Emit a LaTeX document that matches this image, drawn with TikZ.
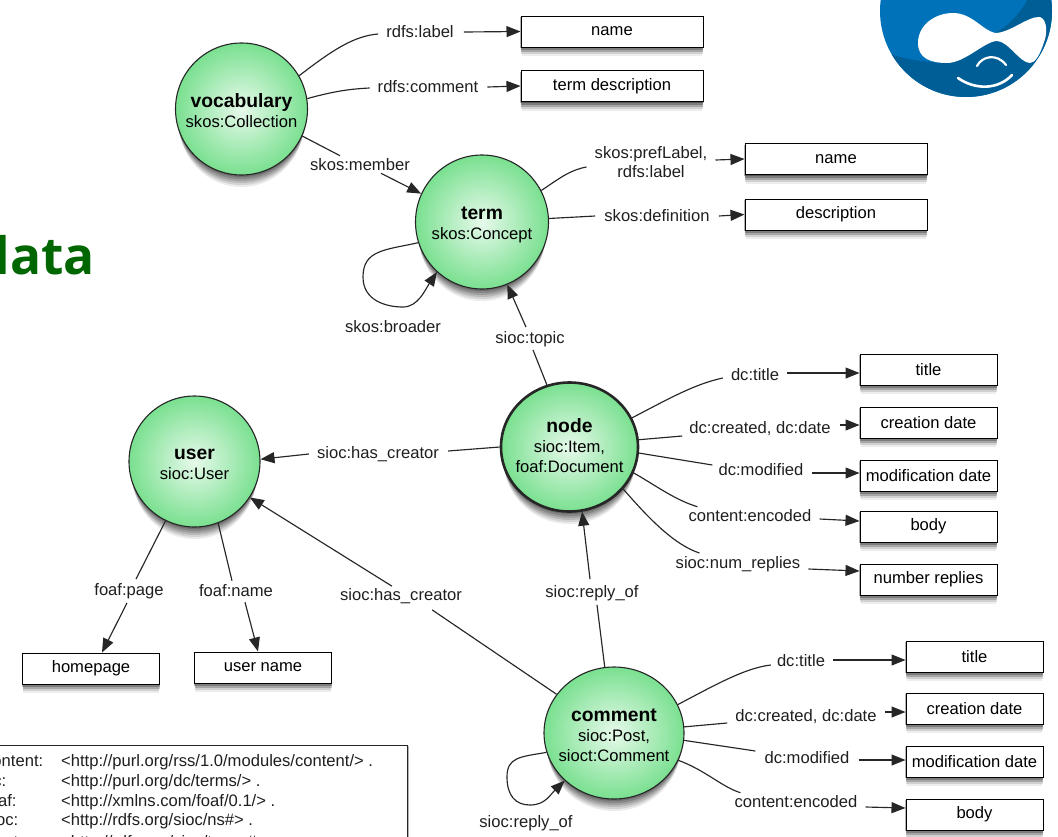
\documentclass[tikz,border=0pt]{standalone}
\usepackage{fontspec}
\setmainfont{Liberation Sans}
\newfontfamily\titlefont{Open Sans}
\usetikzlibrary{arrows.meta,calc,shapes.geometric}
\definecolor{ballgreen}{RGB}{122,224,144}
\definecolor{dblue}{RGB}{0,114,186}
\definecolor{ddblue}{RGB}{0,94,150}
\definecolor{titlegreen}{RGB}{0,102,0}
\newcommand{\balltext}[3]{\raisebox{#1}[0pt][0pt]{\makebox[0pt]{\begin{tabular}{@{}c@{}}\fontsize{19.3}{20}\selectfont\bfseries #2\\#3\end{tabular}}}}
% soft shadows are stacks of translucent copies
\newcommand{\ballshadow}[4]{%
  \foreach \dd/\oo in {2/0.18,4/0.16,6/0.14,8/0.12,10/0.1,12/0.08}{
    \fill[black,opacity=\oo] (#1,#2+\dd) ellipse [x radius=#3-\dd*0.25,y radius=#4];}}
\newcommand{\boxshadow}[4]{%
  \foreach \dd/\oo in {1/0.3,3/0.25,5/0.2,7/0.12,9/0.07}{
    \fill[black,opacity=\oo] (#1-#3/2-1+\dd*0.2,#2-#4/2+\dd) rectangle (#1+#3/2+1-\dd*0.2,#2+#4/2+\dd);}}
\tikzset{
  x=1pt,y=-1pt,
  ball/.style={ellipse,draw=black!85,line width=1.1pt,inner sep=0pt,align=center,font=\fontsize{16.6}{20}\selectfont,
    inner color=white!82!ballgreen,outer color=ballgreen},
  valbox/.style={draw=black,fill=white,line width=1pt,minimum width=137pt,minimum height=31pt,inner sep=0pt,
    font=\fontsize{16.6}{18}\selectfont},
  widebox/.style={valbox,minimum width=182pt},
  lab/.style={inner sep=0pt,align=center,font=\fontsize{16.6}{19}\selectfont,text=black!88},
  edge/.style={draw=black!85,line width=1.15pt},
  arr/.style={edge,-{Triangle[length=14pt,width=11pt]}},
}
\begin{document}
\begin{tikzpicture}
\useasboundingbox (0,0) rectangle (1058,836);
\begin{scope}
\clip (0,0) rectangle (1058,836);
% logo
\fill[dblue] (966,11) circle (86);
\begin{scope}
\clip (966,11) circle (86);
\fill[ddblue] (1030,-5) .. controls (1020,15) and (1005,30) .. (990,35) -- (945,63) .. controls (925,62) and (905,60) .. (885,52) -- (885,110) -- (1060,110) -- (1060,-20) -- cycle;
\end{scope}
\fill[white] (918,43) .. controls (918,25) and (935,13) .. (953,13) .. controls (972,13) and (982,30) .. (995,33) .. controls (1010,33) and (1028,16) .. (1040,17) .. controls (1048,20) and (1047,35) .. (1044,42) .. controls (1040,55) and (1035,63) .. (1030,63) .. controls (1020,63) and (1008,41) .. (997,41) .. controls (985,41) and (965,63) .. (947,63) .. controls (930,63) and (918,58) .. (918,43) -- cycle;
\draw[white,line width=2.2pt,line cap=round] (977,66) .. controls (982,56) and (997,53) .. (1006,65);
\draw[white,line width=2.6pt,line cap=round] (958,78) .. controls (975,90) and (998,90) .. (1012,75);
% title
\node[anchor=base east,inner sep=0pt,text=titlegreen,font=\titlefont\fontsize{51.5}{55}\selectfont\bfseries] (ttl) at (95,274) {data};
% legend
\boxshadow{193}{800}{430}{110}
\node[draw=black!85,fill=white,line width=1pt,minimum width=430pt,minimum height=110pt,anchor=north east] (legend) at (408,745) {};
\foreach \nm/\a/\b/\y in {c1/content:/{<http://purl.org/rss/1.0/modules/content/> .}/761,
  c2/dc:/{<http://purl.org/dc/terms/> .}/781,
  c3/foaf:/{<http://xmlns.com/foaf/0.1/> .}/801,
  c4/sioc:/{<http://rdfs.org/sioc/ns\#> .}/820,
  c5/sioct:/{<http://rdfs.org/sioc/types\#> .}/842}{
  \node[lab,anchor=base west] (\nm a) at (-16,\y+5) {\a};
  \node[lab,anchor=base west] (\nm b) at (61,\y+5) {\b};
}
\end{scope}
% shadows
\ballshadow{241.5}{109}{66}{66}
\ballshadow{482}{222}{66.5}{67}
\ballshadow{569.5}{447}{69}{65}
\ballshadow{194.5}{461.5}{65.5}{65.5}
\ballshadow{614}{733}{70}{66}
\boxshadow{612}{31.5}{182}{31}
\boxshadow{612}{86}{182}{31}
\boxshadow{836}{159}{182}{31}
\boxshadow{836}{214.5}{182}{31}
\boxshadow{928.5}{369.5}{137}{31}
\boxshadow{928.5}{422.5}{137}{31}
\boxshadow{928.5}{475.5}{137}{31}
\boxshadow{928.5}{526.5}{137}{31}
\boxshadow{928.5}{579.5}{137}{31}
\boxshadow{91}{668.5}{137}{31}
\boxshadow{263}{667.5}{137}{31}
\boxshadow{974.5}{656.5}{137}{31}
\boxshadow{974.5}{708.5}{137}{31}
\boxshadow{974.5}{761.5}{137}{31}
\boxshadow{974.5}{814.5}{137}{31}
% balls
\node[ball,minimum width=132pt,minimum height=132pt] (voc) at (241.5,109) {\balltext{-9pt}{vocabulary}{skos:Collection}};
\node[ball,minimum width=133pt,minimum height=134pt] (term) at (482,222) {\balltext{-7.5pt}{term}{skos:Concept}};
\node[ball,minimum width=137pt,minimum height=129pt,line width=2.6pt] (node) at (569.5,447) {\balltext{-5.5pt}{node}{sioc:Item,\\foaf:Document}};
\node[ball,minimum width=131pt,minimum height=131pt] (user) at (194.5,461.5) {\balltext{-8.5pt}{user}{sioc:User}};
\node[ball,minimum width=140pt,minimum height=132pt] (comment) at (614,733) {\balltext{-8.5pt}{comment}{sioc:Post,\\sioct:Comment}};
% boxes
\node[widebox] (b1) at (612,31.5) {name};
\node[widebox] (b2) at (612,86) {term description};
\node[widebox] (b3) at (836,159) {name};
\node[widebox] (b4) at (836,214.5) {description};
\node[valbox] (n1) at (928.5,369.5) {title};
\node[valbox] (n2) at (928.5,422.5) {creation date};
\node[valbox] (n3) at (928.5,475.5) {modification date};
\node[valbox] (n4) at (928.5,526.5) {body};
\node[valbox] (n5) at (928.5,579.5) {number replies};
\node[valbox] (u1) at (91,668.5) {homepage};
\node[valbox] (u2) at (263,667.5) {user name};
\node[valbox] (c1) at (974.5,656.5) {title};
\node[valbox] (c2) at (974.5,708.5) {creation date};
\node[valbox] (c3) at (974.5,761.5) {modification date};
\node[valbox] (c4) at (974.5,814.5) {body};
% labels
\node[lab] (l1) at (420,32) {rdfs:label};
\node[lab] (l2) at (428,87) {rdfs:comment};
\node[lab] (l3) at (360,165) {skos:member};
\node[lab] (l4) at (393,327) {skos:broader};
\node[lab] (l5) at (651,162) {skos:prefLabel,\\rdfs:label};
\node[lab] (l6) at (657,216) {skos:definition};
\node[lab] (l7) at (530,339) {sioc:topic};
\node[lab] (l8) at (378,454) {sioc:has\_creator};
\node[lab] (l9) at (401,596) {sioc:has\_creator};
\node[lab] (l10) at (592,593) {sioc:reply\_of};
\node[lab] (l11) at (755,375) {dc:title};
\node[lab] (l12) at (760,429) {dc:created, dc:date};
\node[lab] (l13) at (761,470) {dc:modified};
\node[lab] (l14) at (750,516) {content:encoded};
\node[lab] (l15) at (738,564) {sioc:num\_replies};
\node[lab] (l16) at (129,591) {foaf:page};
\node[lab] (l17) at (236,591) {foaf:name};
\node[lab] (l18) at (801,661) {dc:title};
\node[lab] (l19) at (806,717) {dc:created, dc:date};
\node[lab] (l20) at (807,758) {dc:modified};
\node[lab] (l21) at (796,802) {content:encoded};
\node[lab] (l22) at (526,823) {sioc:reply\_of};
% connectors
\draw[edge] (voc.30) .. controls (335,48) and (355,36) .. ($(l1.west)+(-8,2)$);
\draw[arr] ($(l1.east)+(10,0)$) -- (b1.west);
\draw[edge] (voc.9) .. controls (335,91) and (350,89) .. ($(l2.west)+(-8,1)$);
\draw[arr] ($(l2.east)+(9,0)$) -- (b2.west);
\draw[edge] (voc.-24) -- ($(l3.north)+(-20,-3)$);
\draw[arr] ($(l3.south)+(21,2)$) -- (term.155);
\draw[edge] (term.28) .. controls (560,178) and (570,170) .. ($(l5.west)+(-8,5)$);
\draw[arr] ($(l5.east)+(8,-2)$) -- (b3.west);
\draw[edge] (term.3) -- ($(l6.west)+(-9,0)$);
\draw[arr] ($(l6.east)+(9,0)$) -- (b4.west);
\draw[arr] (term.198) .. controls (385,250) and (363,250) .. (363,277) .. controls (363,300) and (385,307) .. (403,307) .. controls (418,307) and (425,290) .. (term.228);
\draw[edge] (node.110) -- ($(l7.south)+(3,3)$);
\draw[arr] ($(l7.north)+(-4,-4)$) -- (term.-68);
\draw[edge] (node.180) -- ($(l8.east)+(9,-3)$);
\draw[arr] ($(l8.west)+(-8,0)$) -- (user.2);
\draw[edge] (comment.146) -- ($(l9.south east)+(-30,6)$);
\draw[arr] ($(l9.north west)+(52,-2)$) -- (user.-33);
\draw[edge] (comment.98) -- ($(l10.south)+(5,4)$);
\draw[arr] ($(l10.north)+(-2,-6)$) -- (node.-79);
\draw[edge] (node.25) .. controls (670,398) and (695,384) .. ($(l11.west)+(-8,3)$);
\draw[arr] ($(l11.east)+(8,-2)$) -- (n1.west |- 0,373);
\draw[edge] (node.6.5) -- ($(l12.west)+(-7,7)$);
\draw[arr] ($(l12.east)+(9,-4)$) -- (n2.west |- 0,425);
\draw[edge] (node.-5.7) -- ($(l13.west)+(-6,-5)$);
\draw[arr] ($(l13.east)+(8,3)$) -- (n3.west |- 0,473);
\draw[edge] (node.-22.7) .. controls (655,485) and (675,500) .. ($(l14.north west)+(9,-3)$);
\draw[arr] ($(l14.east)+(8,3)$) -- (n4.west |- 0,521);
\draw[edge] (node.-38) .. controls (650,520) and (675,545) .. ($(l15.north west)+(24,-3)$);
\draw[arr] ($(l15.east)+(8,5)$) -- (n5.west |- 0,571);
\draw[edge] (user.-116) -- ($(l16.north)+(7,-4)$);
\draw[arr] ($(l16.south)+(-2,4)$) -- (u1.north -| 102,0);
\draw[edge] (user.-69.6) -- ($(l17.north)+(-4,-4)$);
\draw[arr] ($(l17.south)+(9,5)$) -- (u2.north -| 258,0);
\draw[edge] (comment.24) .. controls (715,685) and (745,668) .. ($(l18.west)+(-6,4)$);
\draw[arr] ($(l18.east)+(8,-1)$) -- (c1.west |- 0,660);
\draw[edge] (comment.5.5) -- ($(l19.west)+(-8,6)$);
\draw[arr] ($(l19.east)+(8,-5)$) -- (c2.west |- 0,712);
\draw[edge] (comment.-6.3) -- ($(l20.west)+(-9,-7)$);
\draw[arr] ($(l20.east)+(9,2)$) -- (c3.west |- 0,760);
\draw[edge] (comment.-23) .. controls (705,770) and (722,787) .. ($(l21.north west)+(6,-3)$);
\draw[arr] ($(l21.east)+(8,5)$) -- (c4.west |- 0,808);
\draw[arr] (comment.196.6) .. controls (520,757) and (507,757) .. (507,777) .. controls (507,795) and (515,805) .. (530,805) .. controls (545,805) and (550,795) .. (comment.224);
\end{tikzpicture}
\end{document}
